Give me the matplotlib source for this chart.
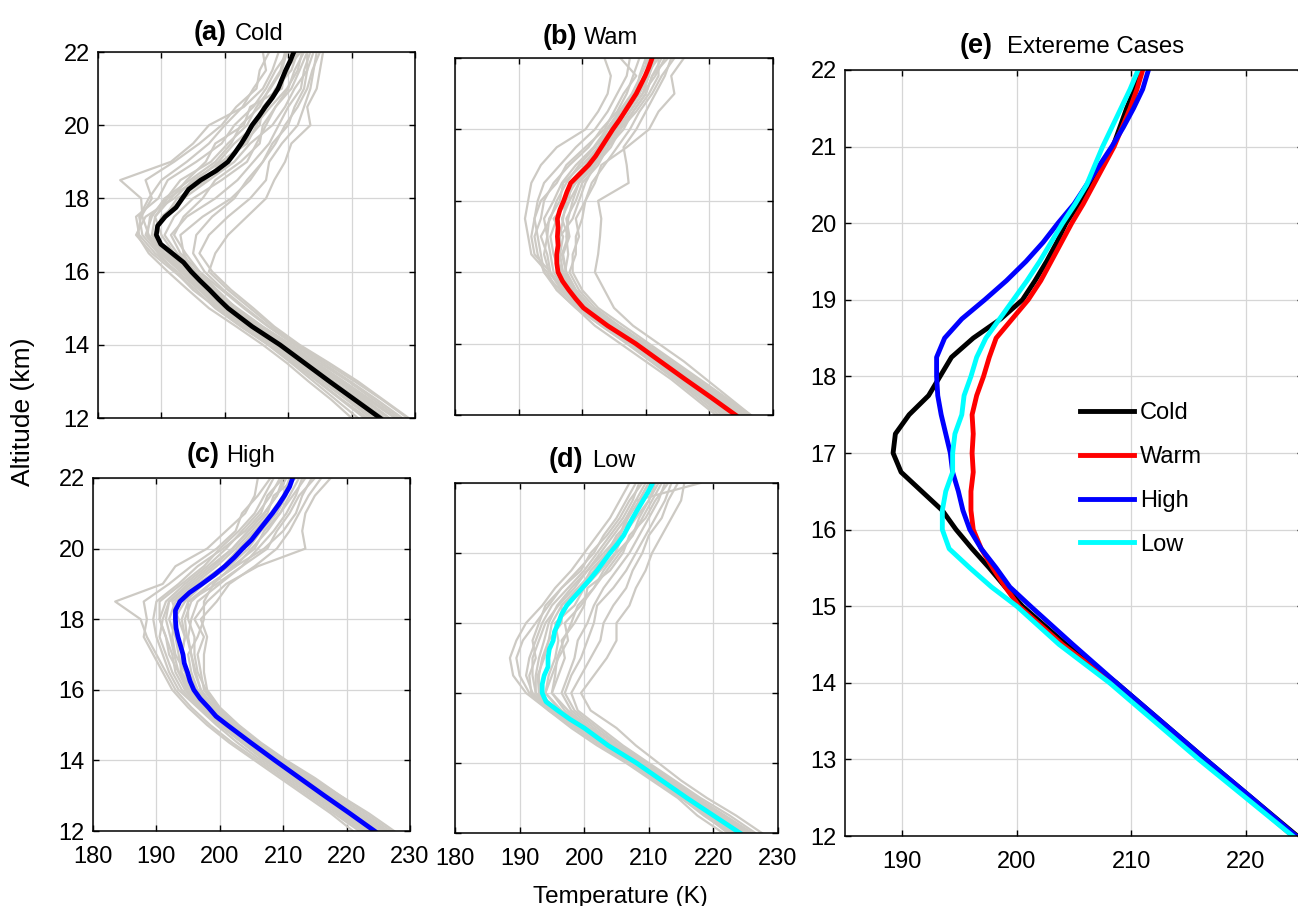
import matplotlib.pyplot as plt

plt.rcParams['font.family'] = ['Liberation Sans', 'DejaVu Sans']

# mean profiles (altitude in km, temperature in K)
alt_mean = [12, 12.5, 13, 13.5, 14, 14.5, 15, 15.25, 15.5, 15.75, 16, 16.25, 16.5, 16.75,
            17, 17.25, 17.5, 17.75, 18, 18.25, 18.5, 18.75, 19, 19.25, 19.5, 19.75, 20,
            20.25, 20.5, 20.75, 21, 21.25, 21.5, 21.75, 22]
cold_mean = [224.5, 220.5, 216.5, 212.6, 208.7, 204.3, 200.5, 199.0, 197.6, 196.1, 194.7, 193.5,
             191.7, 189.9, 189.2, 189.4, 190.6, 192.3, 193.3, 194.3, 196.2, 198.6, 200.5, 201.6,
             202.6, 203.5, 204.3, 205.4, 206.4, 207.5, 208.4, 209.0, 209.6, 210.3, 210.9]
warm_mean = [224.1, 220.2, 216.2, 212.3, 208.4, 204.0, 200.2, 199.0, 197.9, 196.9, 196.2, 196.0,
             196.0, 196.2, 196.1, 196.2, 196.1, 196.5, 197.1, 197.6, 198.2, 199.6, 201.0, 202.1,
             203.0, 203.9, 204.8, 205.8, 206.7, 207.6, 208.5, 209.2, 209.9, 210.5, 211.0]
high_mean = [224.4, 220.5, 216.5, 212.6, 208.7, 204.9, 201.2, 199.4, 198.2, 196.9, 195.9, 195.3,
             194.9, 194.4, 194.2, 193.8, 193.4, 193.1, 193.0, 193.0, 193.7, 195.2, 197.2, 199.1,
             200.8, 202.3, 203.6, 205.0, 206.1, 207.2, 208.3, 209.3, 210.2, 211.0, 211.5]
low_mean = [224.1, 220.0, 215.9, 212.0, 208.1, 203.7, 200.0, 197.8, 195.9, 194.1, 193.5, 193.5,
            193.8, 194.4, 194.4, 194.6, 195.2, 195.4, 196.0, 196.5, 197.3, 198.5, 199.7, 200.9,
            202.0, 203.0, 204.0, 205.1, 206.1, 206.8, 207.5, 208.3, 209.1, 209.9, 210.6]

# individual soundings (grey), every 0.5 km
alt_gray = [12, 12.5, 13, 13.5, 14, 14.5, 15, 15.5, 16, 16.5, 17, 17.5, 18, 18.5, 19, 19.5,
            20, 20.5, 21, 21.5, 22]
cold_gray = [
    [220.0, 216.8, 213.2, 209.8, 206.0, 201.8, 197.5, 194.2, 191.0, 188.0, 186.2, 186.8, 188.5, 187.5, 192.0, 196.0, 199.5, 201.8, 205.0, 205.5, 207.0],
    [227.5, 223.5, 219.5, 215.0, 211.0, 206.8, 203.0, 199.5, 196.0, 193.0, 191.5, 194.0, 198.5, 202.0, 204.5, 207.0, 208.5, 210.0, 212.0, 212.5, 213.5],
    [228.8, 224.8, 220.5, 216.0, 211.5, 207.5, 204.0, 200.5, 197.5, 198.5, 200.5, 203.5, 206.5, 207.8, 209.5, 210.5, 213.5, 213.0, 214.5, 215.0, 215.5],
    [222.5, 218.5, 214.8, 211.0, 207.5, 203.5, 199.8, 196.5, 193.0, 189.8, 187.5, 188.5, 190.5, 194.5, 198.5, 201.0, 202.5, 205.5, 207.0, 208.8, 209.5],
    [225.0, 221.0, 217.0, 213.0, 209.0, 204.8, 200.8, 197.0, 193.8, 190.5, 188.0, 187.0, 186.8, 183.5, 191.5, 195.0, 197.5, 203.0, 206.0, 207.5, 208.5],
    [226.0, 222.2, 218.0, 214.0, 210.0, 205.5, 201.5, 198.5, 195.5, 192.5, 190.5, 192.0, 195.0, 199.5, 203.5, 205.0, 206.5, 208.0, 210.0, 211.0, 212.5],
    [223.5, 219.5, 215.5, 211.5, 207.8, 203.5, 199.0, 196.0, 192.5, 189.0, 186.5, 186.0, 189.5, 191.0, 195.5, 199.5, 201.5, 204.5, 206.5, 208.0, 210.0],
    [229.0, 225.0, 221.0, 216.5, 211.8, 207.8, 204.5, 201.0, 198.0, 196.0, 197.5, 200.5, 204.0, 206.5, 207.0, 209.0, 211.5, 212.5, 213.5, 214.0, 214.5],
    [221.0, 217.5, 214.0, 210.5, 206.8, 202.5, 198.5, 195.5, 192.0, 188.5, 186.0, 187.5, 192.0, 195.0, 199.5, 203.5, 205.0, 206.5, 208.0, 210.5, 211.5],
    [227.0, 223.0, 218.8, 214.5, 210.5, 206.0, 202.0, 198.0, 194.5, 191.0, 189.0, 190.0, 193.5, 197.5, 201.5, 204.0, 207.5, 209.5, 211.0, 213.0, 214.0],
    [224.0, 220.0, 216.0, 212.0, 208.0, 204.0, 200.0, 196.8, 193.5, 190.5, 188.5, 189.0, 191.5, 194.0, 197.0, 198.5, 203.0, 204.0, 209.0, 209.5, 212.0],
    [225.8, 221.8, 217.8, 213.5, 209.5, 205.0, 201.0, 197.8, 195.0, 193.5, 193.0, 196.5, 201.0, 204.0, 206.0, 207.5, 210.0, 211.0, 212.5, 213.0, 213.0],
    [223.0, 219.2, 215.3, 211.5, 207.6, 203.3, 199.3, 196.2, 193.2, 190.2, 187.8, 188.2, 190.8, 193.0, 197.8, 200.5, 203.5, 205.0, 207.2, 209.0, 209.8],
    [226.8, 222.6, 218.4, 214.4, 210.2, 205.8, 201.8, 198.8, 196.0, 193.8, 192.0, 193.5, 196.5, 198.5, 202.5, 205.5, 206.0, 208.0, 210.5, 211.8, 213.0],
    [225.2, 221.3, 217.2, 213.3, 209.3, 205.2, 201.2, 198.0, 195.2, 192.0, 190.0, 189.0, 191.0, 195.5, 199.0, 201.5, 204.8, 207.2, 209.8, 211.5, 212.2],
    [222.0, 218.3, 214.6, 210.8, 207.0, 202.8, 198.8, 195.0, 192.2, 189.5, 187.0, 186.5, 188.0, 190.0, 194.0, 197.5, 200.0, 202.8, 204.5, 206.5, 206.0],
    [228.0, 224.0, 219.8, 215.5, 211.3, 207.0, 203.3, 199.8, 196.8, 195.0, 195.5, 198.0, 201.5, 203.5, 206.0, 208.0, 209.5, 211.5, 213.0, 213.8, 215.0],
    [224.8, 220.8, 216.8, 212.8, 208.9, 204.6, 200.6, 197.4, 194.0, 191.0, 188.8, 190.5, 192.5, 197.0, 199.5, 203.0, 205.5, 206.0, 208.5, 210.0, 210.5],
]
warm_gray = [
    [226.5, 223.0, 219.5, 216.0, 212.0, 208.0, 205.0, 203.5, 202.0, 202.5, 202.8, 203.0, 202.5, 207.3, 207.0, 206.5, 208.5, 210.0, 211.5, 213.0, 214.0],
    [221.0, 217.5, 214.0, 210.0, 206.0, 202.0, 199.0, 196.0, 194.5, 192.0, 191.5, 191.0, 191.5, 192.0, 193.5, 196.0, 200.5, 202.5, 204.0, 204.5, 203.5],
    [226.5, 222.5, 218.5, 214.5, 210.5, 206.5, 202.5, 200.0, 198.5, 198.5, 199.5, 199.0, 200.5, 201.5, 203.5, 205.5, 207.5, 209.0, 211.0, 212.5, 214.5],
    [223.0, 219.0, 215.0, 211.5, 207.5, 203.5, 199.5, 196.5, 194.0, 193.0, 192.5, 193.5, 194.0, 195.5, 198.0, 201.0, 203.0, 205.5, 207.0, 208.0, 209.0],
    [225.0, 221.0, 217.0, 213.0, 209.0, 205.0, 201.5, 199.0, 197.5, 197.0, 198.0, 197.5, 199.0, 200.0, 202.5, 204.0, 206.5, 208.0, 210.0, 211.0, 212.5],
    [222.5, 218.8, 215.5, 212.0, 208.0, 203.8, 199.8, 197.0, 195.0, 194.5, 193.5, 195.0, 196.0, 197.5, 199.5, 202.0, 204.0, 206.0, 208.5, 209.0, 210.0],
    [224.5, 220.8, 217.0, 213.0, 209.0, 204.5, 200.5, 198.0, 196.5, 195.5, 195.0, 196.0, 197.0, 199.0, 201.5, 203.5, 205.5, 207.5, 209.5, 211.5, 213.0],
    [226.0, 222.0, 218.0, 214.0, 210.0, 205.8, 202.0, 199.5, 198.0, 199.0, 199.0, 200.0, 200.5, 202.0, 203.0, 207.0, 210.5, 212.0, 214.5, 214.0, 216.0],
    [221.5, 218.0, 214.5, 210.8, 207.0, 203.0, 199.5, 196.8, 195.0, 192.5, 192.0, 192.5, 193.0, 194.0, 196.5, 199.0, 202.0, 204.0, 205.5, 207.0, 207.5],
    [223.8, 219.8, 216.0, 212.0, 208.0, 204.0, 200.0, 197.5, 196.0, 196.5, 197.0, 195.5, 198.0, 198.0, 200.5, 202.5, 204.0, 207.0, 209.0, 210.0, 211.5],
    [225.5, 221.5, 217.5, 213.5, 209.5, 205.5, 201.0, 198.5, 197.0, 196.5, 196.5, 198.5, 199.5, 200.5, 202.0, 204.5, 206.0, 208.5, 210.5, 212.0, 212.0],
    [222.8, 219.2, 215.4, 211.6, 207.8, 203.4, 199.4, 196.8, 194.8, 194.0, 194.5, 194.0, 195.5, 196.8, 199.0, 201.8, 203.8, 205.8, 207.8, 209.2, 210.5],
    [225.2, 221.3, 217.3, 213.3, 209.3, 205.0, 201.0, 198.8, 197.3, 197.8, 197.5, 197.8, 198.5, 199.5, 202.0, 203.5, 205.5, 207.5, 209.5, 210.5, 211.5],
    [223.2, 219.6, 215.8, 211.8, 208.0, 203.6, 199.8, 197.2, 195.5, 195.0, 194.5, 194.8, 196.5, 197.0, 200.0, 202.5, 204.5, 206.0, 208.0, 210.0, 212.0],
    [226.2, 222.0, 217.8, 213.8, 209.8, 205.5, 201.5, 199.0, 197.5, 196.8, 197.8, 196.8, 198.0, 199.5, 201.5, 204.0, 205.8, 208.0, 210.0, 211.0, 213.5],
    [222.0, 218.5, 214.8, 211.2, 207.2, 203.0, 199.0, 196.0, 194.0, 193.5, 193.0, 192.5, 193.5, 196.0, 197.5, 200.5, 203.5, 205.0, 206.5, 208.5, 206.0],
    [224.8, 220.8, 216.8, 212.8, 208.8, 204.5, 200.8, 198.3, 196.8, 196.0, 196.5, 197.0, 197.5, 198.8, 202.0, 204.0, 205.0, 207.0, 209.0, 210.5, 210.0],
]
high_gray = [
    [222.0, 218.0, 214.0, 210.0, 206.0, 202.0, 198.5, 195.5, 193.0, 191.5, 190.0, 188.5, 187.5, 183.5, 191.0, 193.0, 198.0, 201.0, 204.0, 205.5, 206.0],
    [227.5, 223.5, 219.0, 215.0, 210.5, 206.5, 203.0, 200.0, 198.0, 197.5, 197.5, 198.0, 197.0, 199.5, 201.5, 205.5, 209.0, 211.0, 212.5, 214.0, 216.0],
    [221.0, 217.5, 213.5, 209.5, 205.5, 201.5, 198.0, 195.0, 192.5, 191.0, 189.5, 188.0, 188.5, 188.0, 192.0, 195.5, 199.5, 202.5, 203.5, 206.0, 208.0],
    [225.5, 221.5, 217.5, 213.5, 209.5, 205.5, 201.8, 199.0, 197.0, 196.0, 195.5, 195.0, 195.5, 196.5, 200.0, 203.5, 206.0, 208.5, 210.5, 212.0, 213.0],
    [223.0, 219.0, 215.0, 211.0, 207.0, 203.5, 200.0, 197.0, 194.5, 193.0, 192.5, 191.5, 190.5, 191.5, 194.5, 198.0, 201.0, 203.5, 206.0, 208.0, 209.5],
    [226.5, 222.5, 218.5, 214.0, 210.0, 206.0, 202.5, 199.5, 197.5, 197.0, 196.5, 197.5, 196.0, 198.0, 201.0, 206.0, 213.5, 213.0, 213.5, 215.0, 217.5],
    [224.0, 220.0, 216.0, 212.0, 208.0, 204.0, 200.5, 197.5, 195.5, 194.0, 193.5, 193.0, 192.0, 193.0, 196.5, 200.5, 203.0, 205.5, 208.0, 210.0, 211.0],
    [222.5, 218.5, 214.5, 210.5, 206.5, 202.8, 199.5, 196.5, 193.5, 192.0, 191.0, 190.0, 189.5, 190.0, 193.5, 196.5, 200.5, 204.0, 206.5, 207.5, 210.0],
    [225.0, 221.0, 217.0, 213.0, 209.0, 205.0, 201.5, 198.5, 196.5, 195.5, 195.0, 196.5, 197.5, 197.5, 199.0, 202.0, 205.5, 207.0, 209.5, 211.0, 212.5],
    [227.0, 223.0, 219.0, 214.5, 210.3, 206.0, 202.0, 199.0, 196.5, 195.0, 194.0, 194.5, 194.0, 195.0, 198.5, 202.5, 207.0, 210.0, 212.0, 213.0, 214.5],
    [223.5, 219.5, 215.5, 211.5, 207.5, 203.8, 200.0, 196.8, 194.0, 192.5, 191.5, 190.5, 191.0, 192.0, 195.5, 199.0, 202.0, 204.5, 207.0, 209.0, 210.5],
    [223.2, 219.4, 215.6, 211.8, 207.8, 204.0, 200.2, 197.2, 194.8, 193.5, 192.8, 192.2, 191.5, 192.0, 195.0, 198.5, 202.0, 204.5, 207.0, 209.0, 210.0],
    [225.8, 221.8, 217.6, 213.6, 209.6, 205.8, 202.2, 199.2, 197.0, 196.2, 195.5, 194.8, 194.5, 195.5, 198.5, 202.5, 205.0, 207.5, 209.5, 211.5, 213.5],
    [224.8, 220.8, 216.8, 212.8, 208.9, 205.0, 201.0, 198.0, 195.5, 194.5, 193.0, 192.5, 192.8, 194.5, 197.5, 201.5, 204.5, 206.5, 209.0, 210.5, 211.0],
    [222.8, 219.0, 215.2, 211.4, 207.4, 203.6, 200.0, 197.5, 195.0, 193.8, 194.0, 194.5, 193.5, 192.5, 196.0, 199.5, 202.5, 205.0, 207.5, 208.5, 212.0],
    [226.2, 222.0, 218.0, 214.0, 210.0, 206.2, 202.8, 199.8, 197.8, 196.5, 196.0, 196.0, 195.0, 195.0, 199.5, 203.5, 207.5, 209.0, 211.0, 212.5, 215.0],
    [224.0, 220.2, 216.2, 212.2, 208.3, 204.5, 200.8, 197.8, 195.2, 193.5, 192.0, 191.5, 190.5, 190.5, 194.0, 197.5, 200.0, 203.0, 205.5, 207.0, 208.5],
]
low_gray = [
    [221.5, 217.5, 214.5, 210.5, 206.5, 202.0, 198.0, 194.5, 191.0, 189.0, 188.5, 189.5, 191.0, 193.5, 195.5, 198.0, 200.0, 202.0, 204.0, 205.5, 207.0],
    [227.5, 223.5, 219.0, 215.0, 211.5, 208.0, 205.0, 201.0, 199.5, 201.5, 203.5, 205.0, 205.0, 207.0, 208.0, 209.5, 210.5, 212.0, 213.5, 215.0, 215.5],
    [223.0, 219.0, 215.0, 211.5, 207.5, 203.0, 199.0, 195.0, 192.0, 191.0, 191.5, 192.5, 193.5, 195.0, 197.5, 200.0, 202.0, 204.0, 206.0, 207.5, 208.5],
    [225.5, 221.5, 217.0, 213.0, 209.0, 205.0, 201.5, 198.0, 196.5, 197.5, 198.5, 199.0, 200.5, 201.5, 203.0, 205.0, 207.0, 208.5, 210.0, 211.5, 212.5],
    [224.5, 220.5, 216.5, 212.5, 208.5, 204.5, 200.5, 196.5, 194.0, 195.0, 196.0, 197.5, 197.0, 199.5, 201.5, 203.0, 205.0, 207.5, 208.5, 210.0, 211.5],
    [222.5, 218.5, 215.0, 211.0, 207.0, 202.5, 198.5, 194.5, 191.5, 190.0, 189.5, 190.5, 192.5, 194.5, 196.5, 199.0, 201.5, 203.0, 205.0, 206.5, 208.0],
    [226.5, 222.5, 218.0, 214.0, 210.0, 206.0, 202.5, 199.0, 198.0, 199.5, 201.0, 202.5, 203.0, 204.5, 206.5, 207.5, 209.0, 210.0, 212.0, 213.0, 214.5],
    [224.0, 220.0, 216.0, 212.0, 208.0, 204.0, 200.0, 196.0, 193.0, 193.0, 193.5, 194.5, 195.0, 196.5, 199.0, 201.5, 203.5, 205.0, 207.5, 208.5, 210.0],
    [225.0, 221.0, 217.5, 213.5, 209.5, 205.5, 201.0, 197.5, 195.0, 196.0, 197.0, 196.5, 198.5, 200.0, 200.5, 204.0, 206.0, 207.0, 209.5, 211.0, 213.0],
    [223.5, 219.5, 215.5, 211.8, 207.8, 203.5, 199.5, 195.5, 192.5, 192.0, 192.0, 193.0, 194.0, 196.0, 198.5, 200.5, 203.0, 205.5, 206.5, 208.0, 218.0],
    [223.0, 219.0, 215.0, 211.2, 207.3, 203.0, 199.2, 195.0, 192.5, 192.5, 193.0, 193.8, 194.5, 195.8, 198.0, 200.5, 202.5, 204.5, 206.5, 208.0, 209.5],
    [225.2, 221.0, 216.8, 212.8, 208.8, 204.5, 200.8, 197.0, 195.0, 195.5, 195.8, 196.8, 198.0, 199.0, 201.5, 203.5, 205.5, 207.5, 209.0, 210.5, 212.0],
    [224.5, 220.3, 216.3, 212.3, 208.3, 204.0, 200.3, 196.3, 194.0, 194.5, 195.5, 196.0, 195.5, 198.5, 200.0, 202.5, 204.8, 206.0, 208.0, 210.0, 211.0],
    [222.2, 218.8, 215.2, 211.5, 207.5, 202.8, 198.8, 194.8, 191.8, 191.5, 192.5, 192.0, 193.0, 194.0, 196.5, 199.5, 201.0, 203.5, 205.5, 207.0, 209.0],
    [226.0, 221.8, 217.5, 213.5, 209.5, 205.5, 202.0, 198.5, 197.0, 198.0, 199.5, 200.5, 201.5, 202.0, 204.5, 206.5, 208.0, 209.5, 211.0, 212.5, 213.5],
    [223.8, 219.8, 215.8, 211.8, 207.9, 203.5, 199.8, 195.5, 193.0, 192.8, 193.8, 194.5, 196.5, 196.5, 199.5, 201.0, 203.5, 205.5, 206.8, 208.5, 210.0],
]

case_names = ['Cold', 'Warm', 'High', 'Low']
case_titles = ['Cold', 'Wam', 'High', 'Low']
case_tags = ['(a)', '(b)', '(c)', '(d)']
case_colors = ['black', 'red', 'blue', 'cyan']
case_means = [cold_mean, warm_mean, high_mean, low_mean]
case_grays = [cold_gray, warm_gray, high_gray, low_gray]

W, H = 1298, 906
fig = plt.figure(figsize=(W / 100, H / 100), dpi=100)


def box(x0, y0, x1, y1):
    # pixel box -> figure fraction
    return [x0 / W, 1 - y1 / H, (x1 - x0) / W, (y1 - y0) / H]


def style(ax, xlim, xticks, yticks, xlab, ylab):
    ax.set_xlim(xlim)
    ax.set_ylim(12, 22)
    ax.set_xticks(xticks)
    ax.set_yticks(yticks)
    ax.grid(True, color='#d6d6d6', linewidth=0.9)
    ax.set_axisbelow(True)
    ax.tick_params(direction='in', top=True, right=True, length=4, width=1,
                   labelsize=17, labelbottom=xlab, labelleft=ylab)
    ax.tick_params(axis='x', pad=11)
    ax.tick_params(axis='y', pad=6)
    for s in ax.spines.values():
        s.set_linewidth(1.1)


small_boxes = [box(98, 52, 415, 418), box(455, 58, 773, 415),
               box(93, 478, 410, 831), box(455, 483, 778, 833)]
title_pos = [(0.407, 0.432, 1.033), (0.384, 0.406, 1.039),
             (0.400, 0.420, 1.045), (0.396, 0.424, 1.046)]
show_x = [False, False, True, True]
show_y = [True, False, True, False]

for i in range(4):
    ax = fig.add_axes(small_boxes[i])
    for prof in case_grays[i]:
        ax.plot(prof, alt_gray, color='#cdcac4', linewidth=1.6)
    ax.plot(case_means[i], alt_mean, color=case_colors[i], linewidth=3.4)
    style(ax, (180, 230), range(180, 231, 10), range(12, 23, 2), show_x[i], show_y[i])
    xa, xb, yt = title_pos[i]
    ax.text(xa, yt, case_tags[i], transform=ax.transAxes, ha='right', va='baseline',
            fontsize=19.5, fontweight='bold')
    ax.text(xb, yt, case_titles[i], transform=ax.transAxes, ha='left', va='baseline',
            fontsize=17)

# (e) all extreme cases together
ax = fig.add_axes(box(845, 70, 1303, 836))
for name, mean, col in zip(case_names, case_means, case_colors):
    ax.plot(mean, alt_mean, color=col, linewidth=3.5, label=name)
style(ax, (185, 225), [190, 200, 210, 220], range(12, 23), True, True)
ax.text(0.323, 1.022, '(e)', transform=ax.transAxes, ha='right', va='baseline',
        fontsize=19.5, fontweight='bold')
ax.text(0.354, 1.022, 'Extereme Cases', transform=ax.transAxes, ha='left', va='baseline',
        fontsize=17.3)
ax.legend(loc='upper left', bbox_to_anchor=(0.513, 0.566), frameon=False, fontsize=17,
          handlelength=2.3, handletextpad=0.25, labelspacing=0.92, borderpad=0,
          borderaxespad=0)

fig.text(23 / W, 1 - 412 / H, 'Altitude (km)', rotation=90, ha='center', va='center',
         fontsize=19)
fig.text(620 / W, 1 - 903 / H, 'Temperature (K)', ha='center', va='baseline', fontsize=17.5)

fig.savefig('out.png', dpi=100)
